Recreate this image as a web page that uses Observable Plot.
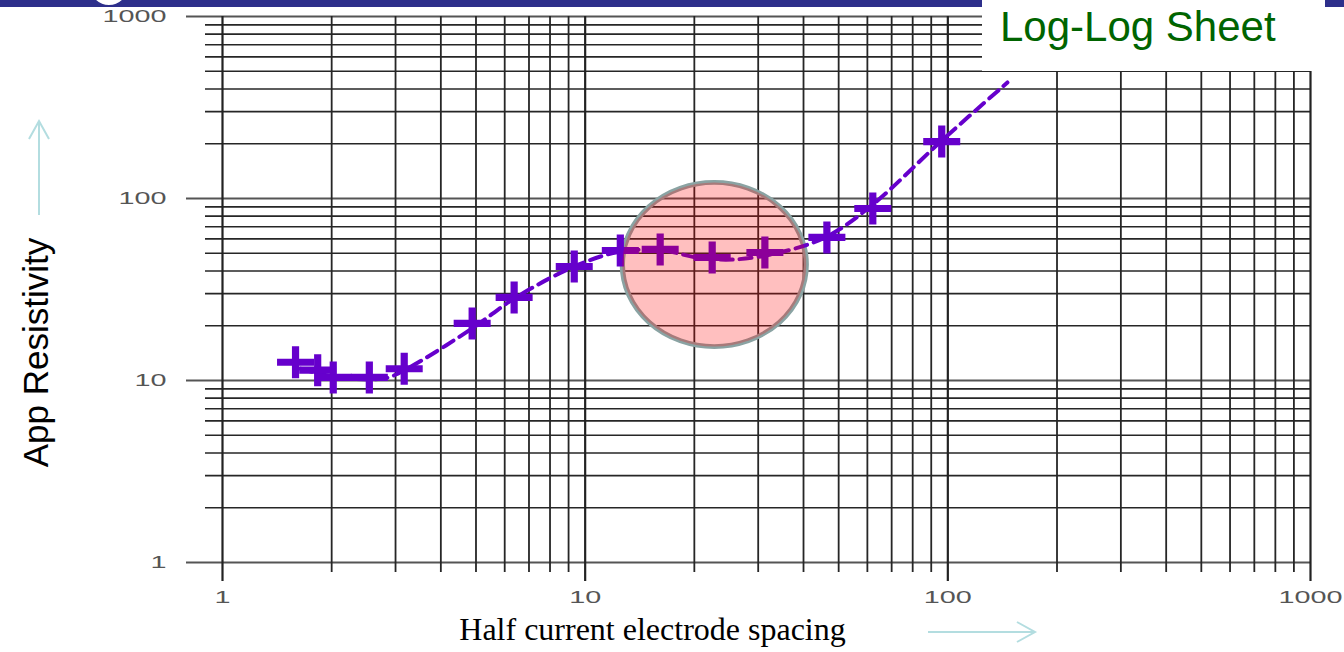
<!DOCTYPE html>
<html>
<head>
<meta charset="utf-8">
<script src="https://cdn.jsdelivr.net/npm/d3@7"></script>
<script src="https://cdn.jsdelivr.net/npm/@observablehq/plot@0.6"></script>
<style>
  html, body { margin: 0; padding: 0; background: #fff; }
  #wrap { position: relative; width: 1344px; height: 652px; overflow: hidden; }
  #wrap svg.plotsvg { position: absolute; left: 0; top: 0; }
  #overlay { position: absolute; left: 0; top: 0; pointer-events: none; }
  #sheet { position: absolute; left: 982px; top: 7px; width: 362px; height: 64px; background: #fff; }
  #sheet span { position: absolute; left: 18px; top: -4px; font: 42px "Liberation Sans", Arial, sans-serif; color: #006400; white-space: nowrap; }
</style>
</head>
<body>
<div id="wrap"></div>
<script>
// Measured soundings (half current electrode spacing vs apparent resistivity)
const spacing      = [1.59, 1.83, 2.02, 2.54, 3.17, 4.88, 6.37, 9.33, 12.5, 16.1, 22.4, 31.3, 46.4, 62.1, 96.2];
const resistivity  = [12.6, 11.4, 10.4, 10.4, 11.6, 20.6, 28.6, 42.3, 51.8, 52.5, 47.4, 50.5, 61.1, 88.1, 205.6];
// Fitted (dashed) curve read from the sheet
const curveSpacing     = [1.64, 2.11, 2.81, 3.30, 4.91, 6.37, 9.33, 12.5, 16.4, 20.3, 25.6, 34.4, 46.4, 62.1, 96.2, 146];
const curveResistivity = [11.6, 10.4, 10.3, 11.9, 19.5, 28.2, 42.3, 51.1, 51.8, 47.4, 46.2, 50.5, 61.8, 92.7, 208, 434];
// Highlighted zone
const highlightSpacing = [22.7];
const highlightResistivity = [43.4];
// Axes / grid
const majorTicks  = [1, 10, 100, 1000];
const tickLabels  = ["1", "10", "100", "1000"];
const decades     = [1, 10, 100];
const multipliers = [2, 3, 4, 5, 6, 7, 8, 9];
const xTitle = "Half current electrode spacing";
const yTitle = "App Resistivity";
const sheetTitle = "Log-Log Sheet";

const points = spacing.map((s, i) => ({x: s, y: resistivity[i]}));
const curve = curveSpacing.map((s, i) => ({x: s, y: curveResistivity[i]}));
const highlight = highlightSpacing.map((s, i) => ({x: s, y: highlightResistivity[i]}));
const minorTicks = decades.flatMap(d => multipliers.map(m => d * m));
const ticks = majorTicks.map((v, i) => ({v, label: tickLabels[i]}));

const crossSymbol = {
  draw(ctx) {
    const hw = 18.5, hh = 16, t = 3.6;
    ctx.moveTo(-t, -hh); ctx.lineTo(t, -hh); ctx.lineTo(t, -t); ctx.lineTo(hw, -t);
    ctx.lineTo(hw, t); ctx.lineTo(t, t); ctx.lineTo(t, hh); ctx.lineTo(-t, hh);
    ctx.lineTo(-t, t); ctx.lineTo(-hw, t); ctx.lineTo(-hw, -t); ctx.lineTo(-t, -t);
    ctx.closePath();
  }
};

const gridColor = "#262626";
const purple = "#6600cc";

const chart = Plot.plot({
  width: 1344,
  height: 652,
  marginLeft: 222,
  marginRight: 34,
  marginTop: 16,
  marginBottom: 90,
  x: {type: "log", domain: [1, 1000], axis: null},
  y: {type: "log", domain: [1, 1000], axis: null},
  style: {background: "transparent", overflow: "visible"},
  marks: [
    Plot.ruleY(minorTicks, {y: d => d, stroke: gridColor, strokeWidth: 1.6, insetLeft: -17}),
    Plot.ruleY(majorTicks, {y: d => d, stroke: "#555", strokeWidth: 2, insetLeft: -36}),
    Plot.ruleX(minorTicks, {x: d => d, stroke: gridColor, strokeWidth: 1.8, insetBottom: -10}),
    Plot.ruleX(majorTicks, {x: d => d, stroke: "#222", strokeWidth: 2.2, insetBottom: -19}),
    Plot.text(ticks, {y: "v", text: "label", frameAnchor: "left", dx: -56, textAnchor: "end",
      fontSize: 16, fill: "#555", fontFamily: "Liberation Sans, Arial, sans-serif", ariaLabel: () => "ytick"}),
    Plot.text(ticks, {x: "v", text: "label", frameAnchor: "bottom", dy: 35, textAnchor: "middle", lineAnchor: "middle",
      fontSize: 16, fill: "#555", fontFamily: "Liberation Sans, Arial, sans-serif", ariaLabel: () => "xtick"}),
    Plot.dot(highlight, {x: "x", y: "y", r: 87, fill: "none", stroke: "#8aa3a3", strokeWidth: 5, ariaLabel: () => "zone"}),
    Plot.line(curve, {x: "x", y: "y", curve: "catmull-rom", stroke: purple, strokeWidth: 4,
      strokeDasharray: "12,7"}),
    Plot.dot(points, {x: "x", y: "y", symbol: crossSymbol, r: 5, fill: purple, stroke: "none"}),
    Plot.dot(highlight, {x: "x", y: "y", r: 87, fill: "red", fillOpacity: 0.25, stroke: "none", ariaLabel: () => "zone"}),
    Plot.text([yTitle], {text: d => d, frameAnchor: "left", dx: -186, dy: 63, rotate: -90,
      textAnchor: "middle", lineAnchor: "middle",
      fontSize: 35, fill: "#000", fontFamily: "Liberation Sans, Arial, sans-serif"}),
    Plot.text([xTitle], {text: d => d, frameAnchor: "bottom", dx: -114, dy: 67,
      textAnchor: "middle", lineAnchor: "middle",
      fontSize: 32, fill: "#000", fontFamily: "Liberation Serif, Times New Roman, serif"})
  ]
});
chart.classList.add("plotsvg");

// stretch tick labels as on the original sheet
d3.select(chart).selectAll('text[aria-label="ytick"], text[aria-label="xtick"]')
  .each(function() {
    const n = this.textContent.length;
    d3.select(this).attr("textLength", n * 16).attr("lengthAdjust", "spacingAndGlyphs");
  });
// slightly elliptical highlight, as drawn
d3.select(chart).selectAll('circle[aria-label="zone"]')
  .each(function() {
    const cx = +this.getAttribute("cx"), cy = +this.getAttribute("cy");
    this.setAttribute("transform", `translate(${cx},${cy}) scale(1.057,0.943) translate(${-cx},${-cy})`);
  });

const wrap = document.getElementById("wrap");
wrap.appendChild(chart);

// decorations: slide header bar, axis direction arrows, title box
const ov = d3.create("svg").attr("id", "overlay").attr("width", 1344).attr("height", 652);
ov.append("rect").attr("x", 0).attr("y", 0).attr("width", 1344).attr("height", 7).attr("fill", "#2d2f8b");
ov.append("circle").attr("cx", 109).attr("cy", -14).attr("r", 20).attr("fill", "#fff").attr("stroke", "#2d2f8b").attr("stroke-width", 2);
const ac = "#b3dde0";
ov.append("path").attr("d", "M39,215V121M29,139L39,121L49,139").attr("fill", "none").attr("stroke", ac).attr("stroke-width", 2);
ov.append("path").attr("d", "M928,632H1035M1017,622L1035,632L1017,642").attr("fill", "none").attr("stroke", ac).attr("stroke-width", 2);
wrap.appendChild(ov.node());

const sheet = document.createElement("div");
sheet.id = "sheet";
const sp = document.createElement("span");
sp.textContent = sheetTitle;
sheet.appendChild(sp);
wrap.appendChild(sheet);
const cover = document.createElement("div");
cover.style.cssText = "position:absolute;left:982px;top:0;width:343px;height:7px;background:#fff;";
wrap.appendChild(cover);
</script>
</body>
</html>
